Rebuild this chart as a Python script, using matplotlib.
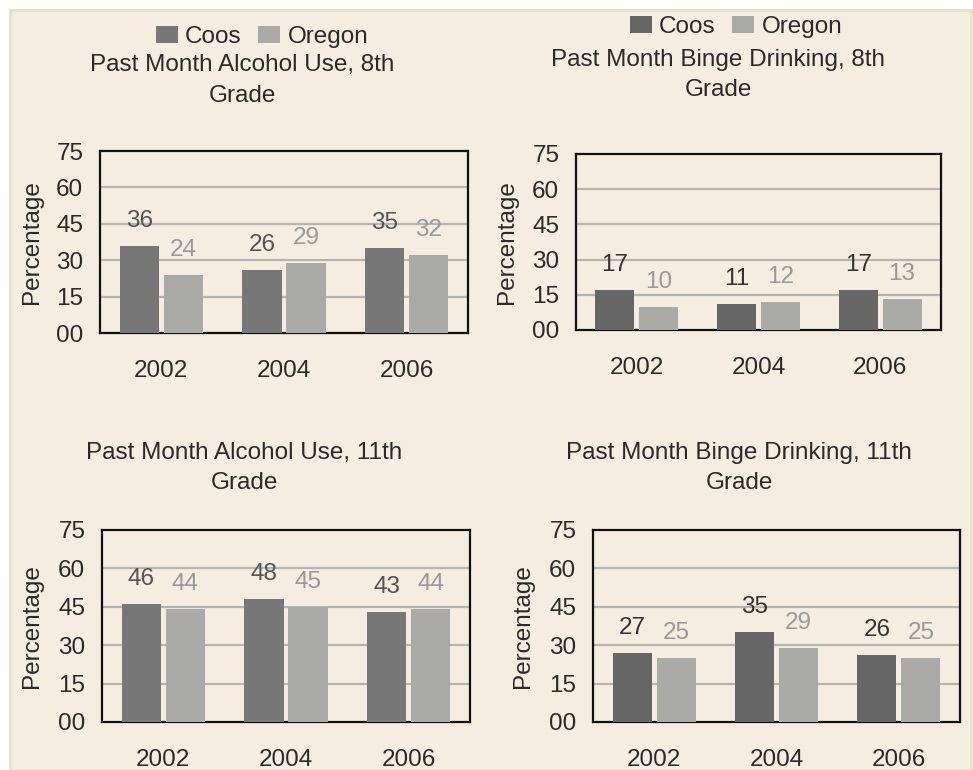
import matplotlib
matplotlib.use("Agg")
import matplotlib.pyplot as plt
from matplotlib.patches import Rectangle, Patch

plt.rcParams['font.family'] = ['Liberation Sans', 'DejaVu Sans']

years = ['2002', '2004', '2006']
series_names = ['Coos', 'Oregon']
yticks = [0, 15, 30, 45, 60, 75]
ytick_labels = ['00', '15', '30', '45', '60', '75']

titles = [
    'Past Month Alcohol Use, 8th\nGrade',
    'Past Month Binge Drinking, 8th\nGrade',
    'Past Month Alcohol Use, 11th\nGrade',
    'Past Month Binge Drinking, 11th\nGrade',
]
coos = [
    [36, 26, 35],
    [17, 11, 17],
    [46, 48, 43],
    [27, 35, 26],
]
oregon = [
    [24, 29, 32],
    [10, 12, 13],
    [44, 45, 44],
    [25, 29, 25],
]

W, H = 973, 770
BG = '#f5eddf'
fig = plt.figure(figsize=(W / 100, H / 100), dpi=100, facecolor='white')

def fx(x):
    return x / W

def fy(y):
    return 1 - y / H

fig.patches.append(Rectangle((fx(10), fy(770)), fx(961), 760 / H,
                             transform=fig.transFigure, facecolor=BG,
                             edgecolor='#ecdfc4', linewidth=2, zorder=-10))

# pixel layout of each panel: axes box, title center, legend, ylabel x
panels = [
    dict(box=(100, 151, 468, 333), tx=242, ty=(65, 96), leg=(262, 37), ylx=32, xly=368,
         coos_c='#777777', coos_t='#555555'),
    dict(box=(576, 154, 941, 330), tx=718, ty=(60, 90), leg=(736, 27), ylx=507, xly=365,
         coos_c='#666666', coos_t='#333333'),
    dict(box=(102, 530, 470, 722), tx=244, ty=(453, 483), leg=None, ylx=32, xly=757,
         coos_c='#777777', coos_t='#555555'),
    dict(box=(593, 530, 960, 722), tx=739, ty=(453, 483), leg=None, ylx=523, xly=757,
         coos_c='#666666', coos_t='#333333'),
]

OREGON_C = '#aaaaa7'
OREGON_T = '#999999'
TXT = '#2a2a2a'
FS = 17.5
bw = 0.32
off = 0.18

for i, p in enumerate(panels):
    l, t, r, b = p['box']
    ax = fig.add_axes([fx(l), fy(b), (r - l) / W, (b - t) / H])
    ax.set_facecolor(BG)
    x = list(range(len(years)))
    b1 = ax.bar([v - off for v in x], coos[i], width=bw, color=p['coos_c'], zorder=3)
    b2 = ax.bar([v + off for v in x], oregon[i], width=bw, color=OREGON_C, zorder=3)
    for rect, val in zip(b1, coos[i]):
        ax.annotate(str(val), (rect.get_x() + rect.get_width() / 2, val),
                    xytext=(0, 18), textcoords='offset points', ha='center', va='center',
                    fontsize=FS, color=p['coos_t'], zorder=4)
    for rect, val in zip(b2, oregon[i]):
        ax.annotate(str(val), (rect.get_x() + rect.get_width() / 2, val),
                    xytext=(0, 18), textcoords='offset points', ha='center', va='center',
                    fontsize=FS, color=OREGON_T, zorder=4)
    ax.set_xlim(-0.5, 2.5)
    ax.set_ylim(0, 75)
    ax.set_yticks(yticks)
    ax.set_yticklabels(ytick_labels, fontsize=FS, color=TXT)
    ax.set_xticks(x)
    ax.set_xticklabels(years, fontsize=FS, color=TXT)
    ax.tick_params(axis='y', length=0, pad=12)
    ax.tick_params(axis='x', length=0, pad=(p['xly'] - b) * 0.72 - 6)
    for yv in yticks[1:-1]:
        ax.axhline(yv, color='#b4b4b0', linewidth=1.6, zorder=1)
    for s in ax.spines.values():
        s.set_linewidth(1.6)
        s.set_color('#111111')
    fig.text(fx(p['ylx']), fy((t + b) / 2), 'Percentage', rotation=90,
             ha='center', va='center', fontsize=FS, color=TXT)
    fig.text(fx(p['tx']), fy(p['ty'][0]), titles[i].split('\n')[0], ha='center',
             va='center', fontsize=FS, color=TXT)
    fig.text(fx(p['tx']), fy(p['ty'][1]), titles[i].split('\n')[1], ha='center',
             va='center', fontsize=FS, color=TXT)
    if p['leg'] is not None:
        handles = [Patch(facecolor=p['coos_c']), Patch(facecolor=OREGON_C)]
        fig.legend(handles, series_names, loc='center', ncol=2,
                   bbox_to_anchor=(fx(p['leg'][0]), fy(p['leg'][1])),
                   frameon=False, fontsize=FS, handlelength=0.9, handleheight=0.7,
                   handletextpad=0.3, columnspacing=0.7, borderpad=0,
                   labelcolor=TXT)

fig.savefig('out.png', dpi=100, facecolor='white')
